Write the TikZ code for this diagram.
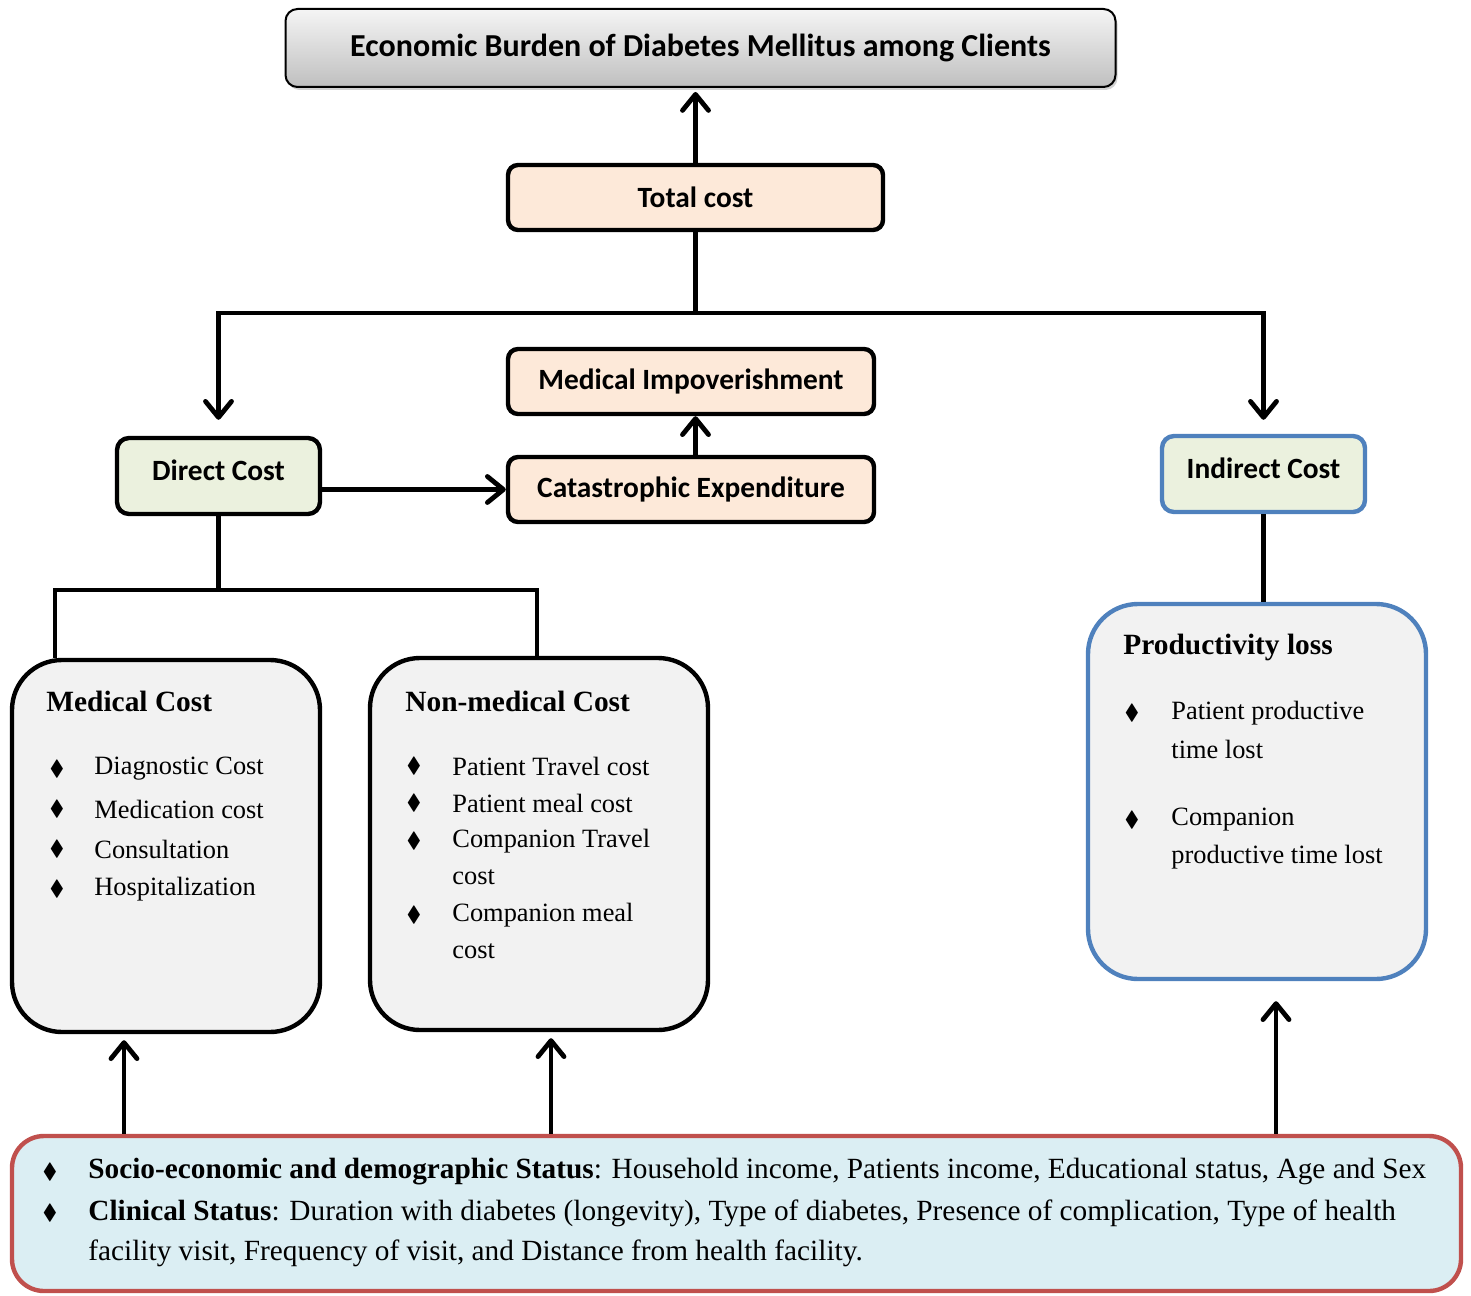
\documentclass[tikz,border=0pt]{standalone}
\usepackage{amssymb}
\usepackage{fontspec}
\setmainfont{Liberation Serif}
\newfontfamily\calibri{Carlito}
\usetikzlibrary{arrows.meta,shadows}

\definecolor{peach}{HTML}{FDE9D9}
\definecolor{palegreen}{HTML}{EBF1DE}
\definecolor{boxgray}{HTML}{F2F2F2}
\definecolor{costblue}{HTML}{4F81BD}
\definecolor{factorred}{HTML}{C0504D}
\definecolor{factorfill}{HTML}{DBEEF3}

\begin{document}
\begin{tikzpicture}[x=0.5pt, y=-0.5pt, >={Straight Barb[length=8pt,width=13pt,line width=2.4pt,round]},
    conn/.style={line width=2.4pt},
    titlebox/.style={draw=black, line width=1pt, rounded corners=6pt, top color=gray!8, bottom color=gray!50,
        drop shadow={shadow xshift=1pt, shadow yshift=-1.5pt, fill=gray!70},
        minimum width=415pt, minimum height=39pt, font=\calibri\bfseries\fontsize{16}{19}\selectfont},
    peachbox/.style={draw=black, line width=2.2pt, rounded corners=5pt, fill=peach,
        minimum width=183pt, minimum height=32.5pt, font=\calibri\bfseries\fontsize{14.7}{17}\selectfont},
    greenbox/.style={line width=2.2pt, rounded corners=6pt, fill=palegreen, text depth=6pt,
        minimum width=101.5pt, minimum height=38pt, font=\calibri\bfseries\fontsize{14.7}{17}\selectfont},
    listbox/.style={line width=2.2pt, rounded corners=25pt, fill=boxgray, minimum width=169pt, minimum height=186pt},
    factorbox/.style={draw=factorred, line width=2.2pt, rounded corners=16pt, fill=factorfill,
        minimum width=724.5pt, minimum height=77.5pt},
    head/.style={anchor=west, inner sep=0pt, font=\bfseries\fontsize{14.7}{17}\selectfont},
    item/.style={anchor=west, inner sep=0pt, font=\fontsize{13.2}{16}\selectfont},
    bottomtext/.style={anchor=west, inner sep=0pt, font=\fontsize{14.65}{17}\selectfont},
    bullet/.style={inner sep=0pt, font=\fontsize{11}{13}\selectfont}]
    \useasboundingbox (0,0) rectangle (1471,1295);

    % boxes
    \node[titlebox] (title) at (700.5,48) {Economic Burden of Diabetes Mellitus among Clients};
    \node[peachbox, minimum width=187.5pt] (total) at (695.5,197.5) {Total cost};
    \node[peachbox] (impov) at (691,381.5) {Medical Impoverishment};
    \node[peachbox] (catas) at (691,489.5) {Catastrophic Expenditure};
    \node[greenbox, draw=black] (direct) at (218.5,476) {Direct Cost};
    \node[greenbox, draw=costblue] (indirect) at (1263.5,474) {Indirect Cost};
    \node[listbox, draw=black, minimum width=154pt] (medical) at (166,846) {};
    \node[listbox, draw=black] (nonmed) at (539,844) {};
    \node[listbox, draw=costblue, minimum height=187.5pt] (prod) at (1257,791.5) {};
    \node[factorbox] (factors) at (736.5,1213.5) {};

    % connectors
    \coordinate (split) at (695.5,313);
    \coordinate (dsplit) at (218.5,590);
    \coordinate (dleft) at (55,590);
    \coordinate (dright) at (537,590);
    \coordinate (f1) at (124,0);
    \coordinate (f2) at (551,0);
    \coordinate (f3) at (1276,0);
    \draw[conn, ->, shorten >=2pt] (total.north) -- (title.south -| total.north);
    \draw[conn] (total.south) -- (split);
    \draw[conn, ->, shorten >=8pt] (split) -| (direct.north);
    \draw[conn, ->, shorten >=7pt] (split) -| (indirect.north);
    \draw[conn, ->] (catas.north -| total.south) -- (impov.south -| total.south);
    \draw[conn, ->] (direct.east |- catas.west) -- (catas.west);
    \draw[conn] (direct.south) -- (dsplit);
    \draw[conn] (dleft |- medical.north) -- (dleft) -- (dright) -- (dright |- nonmed.north);
    \draw[conn] (indirect.south) -- (indirect.south |- prod.north);
    \draw[conn, ->, shorten >=3pt] (factors.north -| f1) -- (medical.south -| f1);
    \draw[conn, ->, shorten >=3pt] (factors.north -| f2) -- (nonmed.south -| f2);
    \draw[conn, ->, shorten >=10pt] (factors.north -| f3) -- (prod.south -| f3);

    % medical cost
    \node[head] (medhead) at (46,701) {Medical Cost};
    \foreach \y [count=\i] in {769,809,849,889}
        \node[bullet] (medb\i) at (57,\y) {$\blacklozenge$};
    \foreach \y/\t [count=\i] in {769/Diagnostic Cost,809/Medication cost,849/Consultation,889/Hospitalization}
        \node[item] (medl\i) at (94,\y) {\t};

    % non-medical cost
    \node[head] (nonmedhead) at (405,701) {Non-medical Cost};
    \foreach \y [count=\i] in {766,803,841,915}
        \node[bullet] (nonb\i) at (414,\y) {$\blacklozenge$};
    \foreach \y/\t [count=\i] in {766/Patient Travel cost,803/Patient meal cost,841/Companion Travel,877/cost,915/Companion meal,951/cost}
        \node[item] (nonl\i) at (452,\y) {\t};

    % productivity loss
    \node[head] (prodhead) at (1123,647) {Productivity loss};
    \foreach \y [count=\i] in {713,820}
        \node[bullet] (prodb\i) at (1132,\y) {$\blacklozenge$};
    \foreach \y/\t [count=\i] in {713/Patient productive,749/time lost,820/Companion,857/productive time lost}
        \node[item] (prodl\i) at (1171,\y) {\t};

    % factors
    \node[bullet] (facb1) at (50,1172) {$\blacklozenge$};
    \node[bullet] (facb2) at (50,1213) {$\blacklozenge$};
    \node[bottomtext] (facl1) at (88,1172) {\textbf{Socio-economic and demographic Status}: Household income, Patients income, Educational status, Age and Sex};
    \node[bottomtext] (facl2) at (88,1213) {\textbf{Clinical Status}: Duration with diabetes (longevity), Type of diabetes, Presence of complication, Type of health};
    \node[bottomtext] (facl3) at (88,1253) {facility visit, Frequency of visit, and Distance from health facility.};
\end{tikzpicture}
\end{document}
